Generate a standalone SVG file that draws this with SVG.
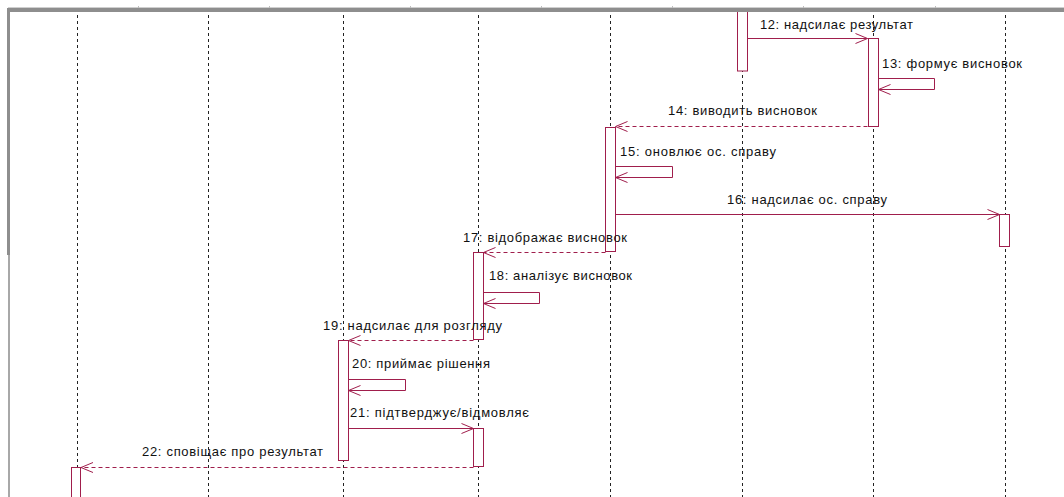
<svg xmlns="http://www.w3.org/2000/svg" width="1064" height="497" viewBox="0 0 1064 497">
<style>
.life{stroke:#222;stroke-width:1;stroke-dasharray:3 3;fill:none}
.act{fill:#fff;stroke:#a01e4c;stroke-width:1}
.msg{stroke:#a01e4c;stroke-width:1;fill:none}
.ret{stroke:#a01e4c;stroke-width:1;fill:none;stroke-dasharray:4 3}
.lbl{font-family:"Liberation Sans",Arial,sans-serif;font-size:13px;fill:#111}
</style>
<defs>
<marker id="arr" markerUnits="userSpaceOnUse" markerWidth="14" markerHeight="12" viewBox="0 0 13 12" refX="12" refY="6" orient="auto">
<path d="M0,1 L12,6 L0,11" fill="none" stroke="#a01e4c" stroke-width="1"/>
</marker>
</defs>
<rect width="1064" height="497" fill="#fff"/>
<g id="frame">
<rect x="8" y="7" width="1056" height="1" fill="#cfcfcf"/>
<rect x="8" y="8" width="1056" height="4" fill="#8e8e8e"/>
<rect x="7" y="8" width="3" height="247" fill="#8e8e8e"/>
<rect x="8" y="255" width="2" height="242" fill="#a8a8a8"/>
<g fill="#bdbdbd"><rect x="138" y="6" width="1" height="3"/><rect x="269" y="6" width="1" height="3"/><rect x="410" y="6" width="1" height="3"/><rect x="541" y="6" width="1" height="3"/><rect x="672" y="6" width="1" height="3"/><rect x="803" y="6" width="1" height="3"/><rect x="935" y="6" width="1" height="3"/></g>
</g>
<g id="lifelines">
<g id="ll1"><line class="life" x1="77.5" y1="15" x2="77.5" y2="497"/></g>
<g id="ll2"><line class="life" x1="208.5" y1="15" x2="208.5" y2="497"/></g>
<g id="ll3"><line class="life" x1="343.5" y1="15" x2="343.5" y2="497"/></g>
<g id="ll4"><line class="life" x1="478.5" y1="15" x2="478.5" y2="497"/></g>
<g id="ll5"><line class="life" x1="610.5" y1="15" x2="610.5" y2="497"/></g>
<g id="ll6"><line class="life" x1="742.5" y1="15" x2="742.5" y2="497"/></g>
<g id="ll7"><line class="life" x1="873.5" y1="15" x2="873.5" y2="497"/></g>
<g id="ll8"><line class="life" x1="1005.5" y1="15" x2="1005.5" y2="497"/></g>
</g>
<g id="connectors">
<path class="msg" d="M747.5,38.5 H867.5" marker-end="url(#arr)"/>
<path class="msg" d="M878.5,78.5 H934.5 V89.5 H878.5" marker-end="url(#arr)"/>
<path class="ret" d="M867.5,126.5 H615.5" marker-end="url(#arr)"/>
<path class="msg" d="M615.5,166.5 H672.5 V177.5 H615.5" marker-end="url(#arr)"/>
<path class="msg" d="M615.5,214.5 H999.5" marker-end="url(#arr)"/>
<path class="ret" d="M605.5,252.5 H483.5" marker-end="url(#arr)"/>
<path class="msg" d="M483.5,292.5 H539.5 V303.5 H483.5" marker-end="url(#arr)"/>
<path class="ret" d="M473.5,340.5 H348.5" marker-end="url(#arr)"/>
<path class="msg" d="M348.5,379.5 H405.5 V390.5 H348.5" marker-end="url(#arr)"/>
<path class="msg" d="M348.5,428.5 H473.5" marker-end="url(#arr)"/>
<path class="ret" d="M473.5,467.5 H81" marker-end="url(#arr)"/>
</g>
<g id="activations">
<g id="act6"><rect class="act" x="737.5" y="11" width="10" height="60"/></g>
<g id="act7"><rect class="act" x="868.5" y="38.5" width="10" height="88"/></g>
<g id="act5"><rect class="act" x="605.5" y="127.5" width="10" height="124"/></g>
<g id="act8"><rect class="act" x="999.5" y="214.5" width="10" height="32"/></g>
<g id="act4a"><rect class="act" x="473.5" y="252.5" width="10" height="87"/></g>
<g id="act3"><rect class="act" x="338.5" y="340.5" width="10" height="120"/></g>
<g id="act4b"><rect class="act" x="473.5" y="428.5" width="10" height="38"/></g>
<g id="act1"><rect class="act" x="71.5" y="467.5" width="9" height="40"/></g>
</g>
<rect x="8" y="8" width="1056" height="4" fill="#8e8e8e"/>
<g id="labels">
<text class="lbl" x="760" y="29" textLength="153">12: надсилає результат</text>
<text class="lbl" x="882" y="68" textLength="140">13: формує висновок</text>
<text class="lbl" x="668" y="115" textLength="149">14: виводить висновок</text>
<text class="lbl" x="620" y="156" textLength="156">15: оновлює ос. справу</text>
<text class="lbl" x="727" y="204" textLength="160">16: надсилає ос. справу</text>
<text class="lbl" x="463" y="242" textLength="164">17: відображає висновок</text>
<text class="lbl" x="489" y="280" textLength="143">18: аналізує висновок</text>
<text class="lbl" x="323" y="330" textLength="179">19: надсилає для розгляду</text>
<text class="lbl" x="352" y="368" textLength="138">20: приймає рішення</text>
<text class="lbl" x="350" y="417" textLength="179">21: підтверджує/відмовляє</text>
<text class="lbl" x="142" y="456" textLength="181">22: сповіщає про результат</text>
</g>
</svg>
